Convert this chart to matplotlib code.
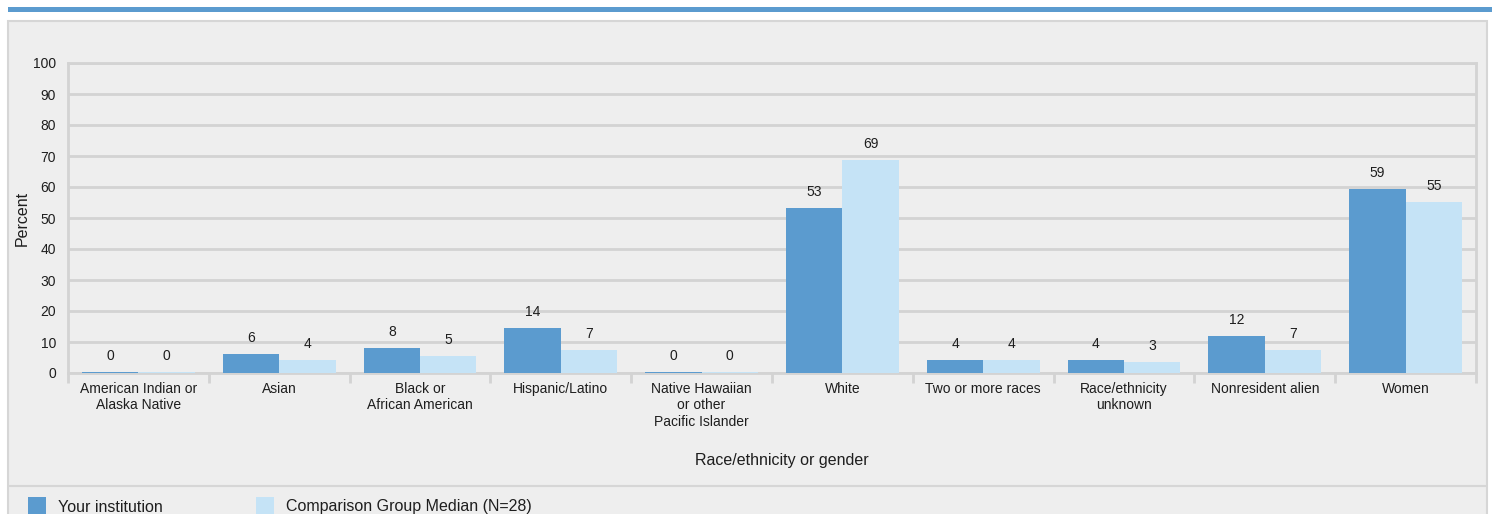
import matplotlib
matplotlib.use("Agg")
import matplotlib.pyplot as plt
from matplotlib.patches import Rectangle
from matplotlib.lines import Line2D
import numpy as np

categories = [
    "American Indian or\nAlaska Native",
    "Asian",
    "Black or\nAfrican American",
    "Hispanic/Latino",
    "Native Hawaiian\nor other\nPacific Islander",
    "White",
    "Two or more races",
    "Race/ethnicity\nunknown",
    "Nonresident alien",
    "Women",
]
your_institution = [0.4, 6.1, 8.0, 14.4, 0.4, 53.3, 4.2, 4.2, 11.9, 59.2]
comparison_median = [0.4, 4.2, 5.4, 7.3, 0.4, 68.8, 4.2, 3.4, 7.3, 55.3]
your_labels = ["0", "6", "8", "14", "0", "53", "4", "4", "12", "59"]
comp_labels = ["0", "4", "5", "7", "0", "69", "4", "3", "7", "55"]
series_names = ["Your institution", "Comparison Group Median (N=28)"]
yticks = list(range(0, 101, 10))

plt.rcParams["font.family"] = ["Liberation Sans", "DejaVu Sans"]

W, H = 1492, 514
DPI = 100
fig = plt.figure(figsize=(W / DPI, H / DPI), dpi=DPI, facecolor="white")

C_DARK = "#5b9bcf"
C_LIGHT = "#c5e3f6"
C_GRID = "#d3d3d3"
C_BG = "#eeeeee"
C_TEXT = "#1e1e1e"

def fx(px):
    return px / W

def fy(py):
    return 1 - py / H

# top blue band
fig.patches.append(Rectangle((fx(8), fy(12)), fx(1492) - fx(8), (12 - 7) / H,
                             transform=fig.transFigure, facecolor=C_DARK,
                             edgecolor="none", zorder=-10))
# grey panel
fig.patches.append(Rectangle((fx(8), fy(530)), fx(1487) - fx(8), (530 - 21) / H,
                             transform=fig.transFigure, facecolor=C_BG,
                             edgecolor="#d6d6d6", linewidth=1.5, zorder=-10))
# separator line above legend
fig.lines.append(Line2D([fx(9), fx(1486)], [fy(486), fy(486)],
                        transform=fig.transFigure, color="#d6d6d6",
                        linewidth=1.5, zorder=-5))

left, right, top, bottom = 68, 1476, 63, 373
ax = fig.add_axes([fx(left), fy(bottom), fx(right) - fx(left), (bottom - top) / H])
ax.set_facecolor(C_BG)

n = len(categories)
x = np.arange(n) + 0.5
bw = 0.4
b1 = ax.bar(x - bw / 2, your_institution, width=bw, color=C_DARK, zorder=3)
b2 = ax.bar(x + bw / 2, comparison_median, width=bw, color=C_LIGHT, zorder=3)

for bars, labels in ((b1, your_labels), (b2, comp_labels)):
    for rect, lab in zip(bars, labels):
        ax.annotate(lab, (rect.get_x() + rect.get_width() / 2, rect.get_height()),
                    xytext=(0, 6.5), textcoords="offset points", ha="center",
                    va="bottom", fontsize=10, color=C_TEXT)

ax.set_xlim(0, n)
ax.set_ylim(0, 100)
ax.set_yticks(yticks)
ax.set_yticklabels([str(t) for t in yticks])
ax.tick_params(axis="y", length=0, pad=8.5, labelsize=10, labelcolor=C_TEXT)
ax.yaxis.grid(True, color=C_GRID, linewidth=2, zorder=0)
ax.set_axisbelow(True)

ax.set_xticks(np.arange(n + 1))
ax.set_xticklabels([])
ax.tick_params(axis="x", which="major", length=7, width=2, color=C_GRID, direction="out")
ax.set_xticks(x, minor=True)
ax.set_xticklabels(categories, minor=True, fontsize=10, color=C_TEXT, linespacing=1.21)
ax.tick_params(axis="x", which="minor", length=0, pad=6.5)

for side in ("left", "right", "top", "bottom"):
    ax.spines[side].set_color(C_GRID)
    ax.spines[side].set_linewidth(2)

fig.text(fx(22), fy(218), "Percent", rotation=90, ha="center", va="center",
         fontsize=11.5, color=C_TEXT)
fig.text(fx(782), fy(461), "Race/ethnicity or gender", ha="center", va="center",
         fontsize=11.5, color=C_TEXT)

# legend
for sx, tx, col, name in ((28, 58, C_DARK, series_names[0]),
                          (256, 286, C_LIGHT, series_names[1])):
    fig.patches.append(Rectangle((fx(sx), fy(516)), 18 / W, 19 / H,
                                 transform=fig.transFigure, facecolor=col,
                                 edgecolor="none", zorder=2))
    fig.text(fx(tx), fy(507), name, ha="left", va="center", fontsize=11.5, color=C_TEXT)

fig.savefig("out.png", dpi=DPI, facecolor="white")
